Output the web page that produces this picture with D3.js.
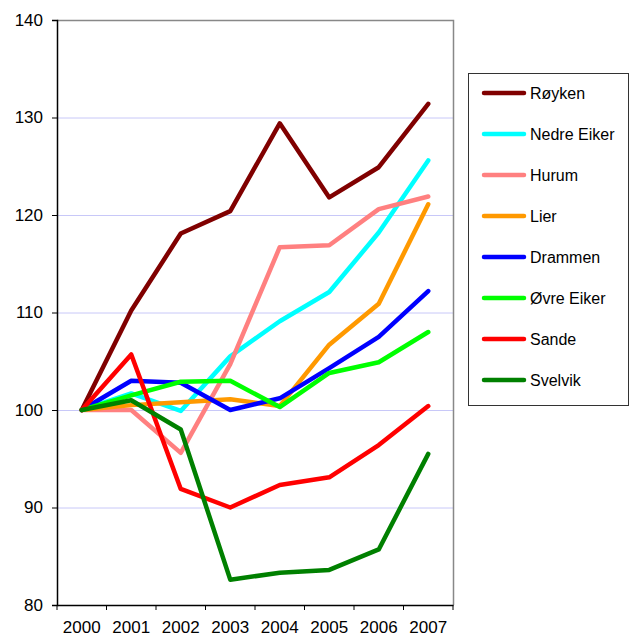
<!DOCTYPE html>
<html>
<head>
<meta charset="utf-8">
<script src="https://cdn.jsdelivr.net/npm/d3@7"></script>
<style>
  body { margin: 0; background: #fff; }
  text { font-family: "Liberation Sans", Arial, sans-serif; fill: #000; }
</style>
</head>
<body>
<div id="chart"></div>
<script>
// data
var years = ["2000", "2001", "2002", "2003", "2004", "2005", "2006", "2007"];
var names = ["Røyken", "Nedre Eiker", "Hurum", "Lier", "Drammen", "Øvre Eiker", "Sande", "Svelvik"];
var colors = ["#800000", "#00ffff", "#ff8080", "#ff9900", "#0000ff", "#00ff00", "#ff0000", "#008000"];
var royken     = [100, 110.2, 118.1, 120.4, 129.4, 121.8, 124.9, 131.4];
var nedreEiker = [100, 101.7, 99.9, 105.5, 109.1, 112.1, 118.2, 125.6];
var hurum      = [100, 100.0, 95.6, 104.7, 116.7, 116.9, 120.6, 121.9];
var lier       = [100, 100.5, 100.8, 101.1, 100.4, 106.7, 110.9, 121.1];
var drammen    = [100, 103.0, 102.8, 100.0, 101.2, 104.3, 107.5, 112.2];
var ovreEiker  = [100, 101.5, 102.9, 103.0, 100.3, 103.8, 104.9, 108.0];
var sande      = [100, 105.7, 91.9, 90.0, 92.3, 93.1, 96.4, 100.4];
var svelvik    = [100, 101.0, 98.0, 82.6, 83.3, 83.6, 85.7, 95.5];
var yTicks = [80, 90, 100, 110, 120, 130, 140];

var series = [royken, nedreEiker, hurum, lier, drammen, ovreEiker, sande, svelvik].map(function (v, i) {
  return { name: names[i], color: colors[i], values: v };
});

var width = 634, height = 638;
var plot = { left: 57, right: 453, top: 20, bottom: 605 };

var svg = d3.select("#chart").append("svg")
    .attr("width", width)
    .attr("height", height);

var x = d3.scaleBand().domain(years).range([plot.left, plot.right]);
var y = d3.scaleLinear().domain([80, 140]).range([plot.bottom, plot.top]);

// gridlines
svg.append("g").selectAll("line")
    .data(yTicks.filter(function (d) { return d > 80 && d < 140; }))
    .enter().append("line")
    .attr("x1", plot.left).attr("x2", plot.right)
    .attr("y1", function (d) { return y(d) + 0.5; })
    .attr("y2", function (d) { return y(d) + 0.5; })
    .attr("stroke", "#c8c8f8")
    .attr("stroke-width", 1);

// gray frame top and right
svg.append("path")
    .attr("d", "M" + plot.left + "," + (plot.top + 0.5) + "H" + (plot.right + 0.5) + "V" + plot.bottom)
    .attr("fill", "none")
    .attr("stroke", "#888")
    .attr("stroke-width", 1.5);

// axes
var yAxis = svg.append("g")
    .attr("transform", "translate(" + plot.left + ",0)")
    .call(d3.axisLeft(y).tickValues(yTicks).tickSize(5).tickPadding(9));
yAxis.select(".domain").attr("stroke", "#000").attr("stroke-width", 1.5);
yAxis.selectAll("text").style("font-size", "17px");

var xAxis = svg.append("g")
    .attr("transform", "translate(0," + plot.bottom + ")")
    .call(d3.axisBottom(x).tickSize(0).tickPadding(16));
xAxis.select(".domain").attr("stroke", "#000").attr("stroke-width", 1.5);
xAxis.selectAll("text").style("font-size", "17px");
// ticks between categories
xAxis.selectAll(".sep")
    .data(years.concat(["end"]))
    .enter().append("line")
    .attr("class", "sep")
    .attr("x1", function (d, i) { return plot.left + i * x.step(); })
    .attr("x2", function (d, i) { return plot.left + i * x.step(); })
    .attr("y1", 0).attr("y2", 5)
    .attr("stroke", "#000");

// lines
var line = d3.line()
    .x(function (d, i) { return x(years[i]) + x.bandwidth() / 2; })
    .y(function (d) { return y(d); });

svg.append("g").selectAll("path")
    .data(series)
    .enter().append("path")
    .attr("d", function (d) { return line(d.values); })
    .attr("fill", "none")
    .attr("stroke", function (d) { return d.color; })
    .attr("stroke-width", 4.5)
    .attr("stroke-linejoin", "round")
    .attr("stroke-linecap", "round");

// legend
var legend = svg.append("g").attr("transform", "translate(468,73)");
legend.append("rect")
    .attr("x", 0.5).attr("y", 0.5)
    .attr("width", 160).attr("height", 332)
    .attr("fill", "#fff")
    .attr("stroke", "#333")
    .attr("stroke-width", 1);

var item = legend.selectAll(".item")
    .data(series)
    .enter().append("g")
    .attr("class", "item")
    .attr("transform", function (d, i) { return "translate(0," + (20 + i * 41) + ")"; });
item.append("line")
    .attr("x1", 16).attr("x2", 56)
    .attr("stroke", function (d) { return d.color; })
    .attr("stroke-width", 4.5)
    .attr("stroke-linecap", "round");
item.append("text")
    .attr("x", 62)
    .attr("dy", "0.35em")
    .style("font-size", "16px")
    .text(function (d) { return d.name; });
</script>
</body>
</html>
